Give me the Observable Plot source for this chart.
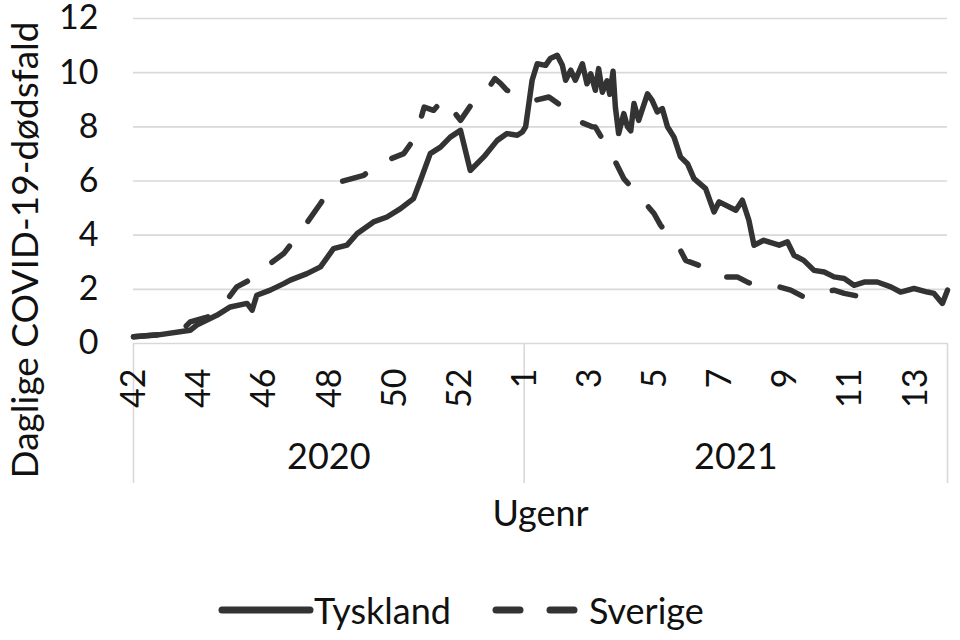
<!DOCTYPE html>
<html>
<head>
<meta charset="utf-8">
<script src="https://cdn.jsdelivr.net/npm/d3@7"></script>
<script src="https://cdn.jsdelivr.net/npm/@observablehq/plot@0.6"></script>
<style>
  html, body { margin: 0; padding: 0; background: #fff; }
  body { font-family: Lato, "Open Sans", sans-serif; color: #111; }
  #wrap { position: relative; width: 960px; height: 640px; overflow: hidden; }
  #legend { position: absolute; left: 218px; top: 588px; height: 44px; display: flex; align-items: center; font-size: 36px; color: #111; }
  #legend .item { display: flex; align-items: center; }
  #legend svg { display: block; }
</style>
</head>
<body>
<div id="wrap"><div id="chart"></div><div id="legend"></div></div>
<script>
// ---- Data (day index from the first day of week 42, 2020) ----
const tysklandDay = [0, 5, 12.2, 13.6, 17.9, 20.8, 24.4, 25.5, 26.5, 29.4, 32.3, 33.7, 37.3, 40.2, 43.0, 45.9, 48.1, 51.6, 54.5, 57.4, 60.2, 61.7, 63.8, 66.0, 68.1, 70.3, 72.4, 75.3, 78.2, 80.3, 82.5, 83.6, 84.3, 85.7, 86.8, 88.6, 89.6, 91.1, 92.2, 92.9, 94.0, 95.0, 96.5, 97.5, 98.3, 99.3, 100.0, 100.8, 101.8, 102.4, 103.1, 103.6, 104.3, 105.4, 106.2, 106.9, 107.6, 108.6, 110.5, 111.5, 112.6, 113.7, 114.8, 116.2, 117.6, 119.1, 120.5, 123.0, 124.8, 125.9, 129.5, 130.9, 132.3, 133.4, 135.5, 138.8, 140.6, 142.0, 144.1, 146.3, 148.5, 150.6, 152.8, 154.9, 157.1, 159.9, 162.8, 164.9, 167.8, 170.7, 172.1, 173.9, 175.0];
const tysklandValue = [0.25, 0.31, 0.49, 0.68, 1.04, 1.35, 1.48, 1.23, 1.78, 1.97, 2.21, 2.34, 2.58, 2.83, 3.5, 3.63, 4.06, 4.49, 4.67, 4.98, 5.35, 6.03, 7.01, 7.25, 7.62, 7.87, 6.39, 6.89, 7.5, 7.75, 7.69, 7.81, 8.0, 9.72, 10.33, 10.27, 10.52, 10.64, 10.27, 9.72, 10.09, 9.72, 10.33, 9.59, 9.96, 9.35, 10.15, 9.28, 9.7, 9.2, 10.05, 8.73, 7.75, 8.49, 8.0, 7.85, 8.86, 8.24, 9.22, 8.98, 8.55, 8.67, 8.0, 7.62, 6.89, 6.64, 6.09, 5.72, 4.86, 5.23, 4.92, 5.29, 4.55, 3.63, 3.81, 3.63, 3.75, 3.26, 3.07, 2.7, 2.64, 2.46, 2.4, 2.15, 2.27, 2.27, 2.09, 1.9, 2.03, 1.9, 1.85, 1.48, 1.97];

const sverigeDay = [0, 5.7, 10.5, 12.2, 15.4, 17.9, 22.2, 24.5, 26.9, 32.3, 35.9, 40.2, 43.0, 49.5, 52.7, 58.1, 60.6, 62.5, 64.5, 66.7, 70.3, 73.5, 76.7, 77.7, 79.0, 80.3, 86.4, 89.3, 94.3, 96.1, 98.6, 99.3, 102.9, 105.4, 110.1, 111.9, 113.3, 117.6, 118.7, 121.5, 126.9, 129.8, 132.3, 138.8, 141.3, 144.1, 150.6, 152.8, 156.0];
const sverigeValue = [0.25, 0.33, 0.5, 0.8, 0.95, 1.1, 2.09, 2.3, 2.64, 3.32, 4.12, 5.17, 5.9, 6.21, 6.64, 7.01, 7.62, 8.73, 8.61, 9.04, 8.24, 9.04, 9.53, 9.78, 9.59, 9.35, 8.98, 9.1, 8.49, 8.18, 8.0, 7.99, 6.95, 6.09, 5.17, 4.8, 4.37, 3.44, 3.07, 2.89, 2.46, 2.46, 2.24, 2.09, 1.97, 1.72, 1.97, 1.85, 1.74];

const weekLabels2020 = [42, 44, 46, 48, 50, 52];
const weekLabels2021 = [1, 3, 5, 7, 9, 11, 13];
const firstWeek2020 = 42, lastWeek2020 = 53, lastWeek2021 = 13;
const yearLabels = ["2020", "2021"];
const yTicks = [0, 2, 4, 6, 8, 10, 12];
const seriesNames = ["Tyskland", "Sverige"];
const yTitle = "Daglige COVID-19-dødsfald";
const xTitle = "Ugenr";

// ---- Derived tables ----
const DAYS = 7;
const days2020 = (lastWeek2020 - firstWeek2020 + 1) * DAYS;
const totalDays = days2020 + lastWeek2021 * DAYS;
const tyskland = tysklandDay.map((d, i) => ({day: d, value: tysklandValue[i]}));
const sverige = sverigeDay.map((d, i) => ({day: d, value: sverigeValue[i]}));
const xTicks = [
  ...weekLabels2020.map(w => ({day: (w - firstWeek2020) * DAYS + 1, label: String(w)})),
  ...weekLabels2021.map(w => ({day: days2020 + (w - 1) * DAYS + 1, label: String(w)}))
];
const boundaries = [0, days2020, totalDays];
const yearGroups = yearLabels.map((y, i) => ({label: y, center: (boundaries[i] + boundaries[i + 1]) / 2}));

const FS = 34;   // tick labels
const FT = 36;   // titles, group labels
const ink = "#111";
const lineColor = "#333";
const gridColor = "#d9d9d9";

const chart = Plot.plot({
  width: 960,
  height: 580,
  marginLeft: 133,
  marginRight: 13,
  marginTop: 18,
  marginBottom: 237,
  style: {fontFamily: "Lato, 'Open Sans', sans-serif", fontSize: FS + "px", color: ink, background: "transparent", overflow: "visible"},
  x: {domain: [0, totalDays]},
  y: {domain: [0, 12]},
  marks: [
    Plot.ruleY(yTicks, {stroke: gridColor, strokeWidth: 1.6}),
    Plot.axisX(boundaries, {tickSize: 140, tickFormat: () => "", stroke: gridColor, strokeWidth: 1.6, label: null}),
    Plot.axisY(yTicks, {tickSize: 0, tickPadding: 35, fontSize: FS, label: null, fill: ink}),
    Plot.text(xTicks, {x: "day", text: "label", frameAnchor: "bottom", dx: 7, dy: 25, rotate: -90, textAnchor: "end", fontSize: FS, fill: ink}),
    Plot.text(yearGroups, {x: "center", text: "label", frameAnchor: "bottom", dy: 125, fontSize: FT, fill: ink}),
    Plot.text([xTitle], {frameAnchor: "bottom", dy: 182, fontSize: FT, fill: ink}),
    Plot.text([yTitle], {frameAnchor: "left", textAnchor: "middle", dx: -107, dy: 69, rotate: -90, fontSize: 37, fill: ink}),
    Plot.line(tyskland, {x: "day", y: "value", stroke: lineColor, strokeWidth: 5.5, strokeLinejoin: "round", strokeLinecap: "round"}),
    Plot.line(sverige, {x: "day", y: "value", stroke: lineColor, strokeWidth: 5.5, strokeLinejoin: "round", strokeLinecap: "round", strokeDasharray: "24,31"})
  ]
});
document.getElementById("chart").appendChild(chart);

// ---- Legend ----
const legend = document.getElementById("legend");
legend.innerHTML = `
  <div class="item">
    <svg width="96" height="20"><line x1="4" y1="10" x2="92" y2="10" stroke="${lineColor}" stroke-width="7" stroke-linecap="round"/></svg>
    <span>${seriesNames[0]}</span>
  </div>
  <div class="item" style="margin-left:38px">
    <svg width="96" height="20"><line x1="7" y1="10" x2="93" y2="10" stroke="${lineColor}" stroke-width="7" stroke-linecap="round" stroke-dasharray="24,30"/></svg>
    <span style="margin-left:4px">${seriesNames[1]}</span>
  </div>`;
</script>
</body>
</html>
